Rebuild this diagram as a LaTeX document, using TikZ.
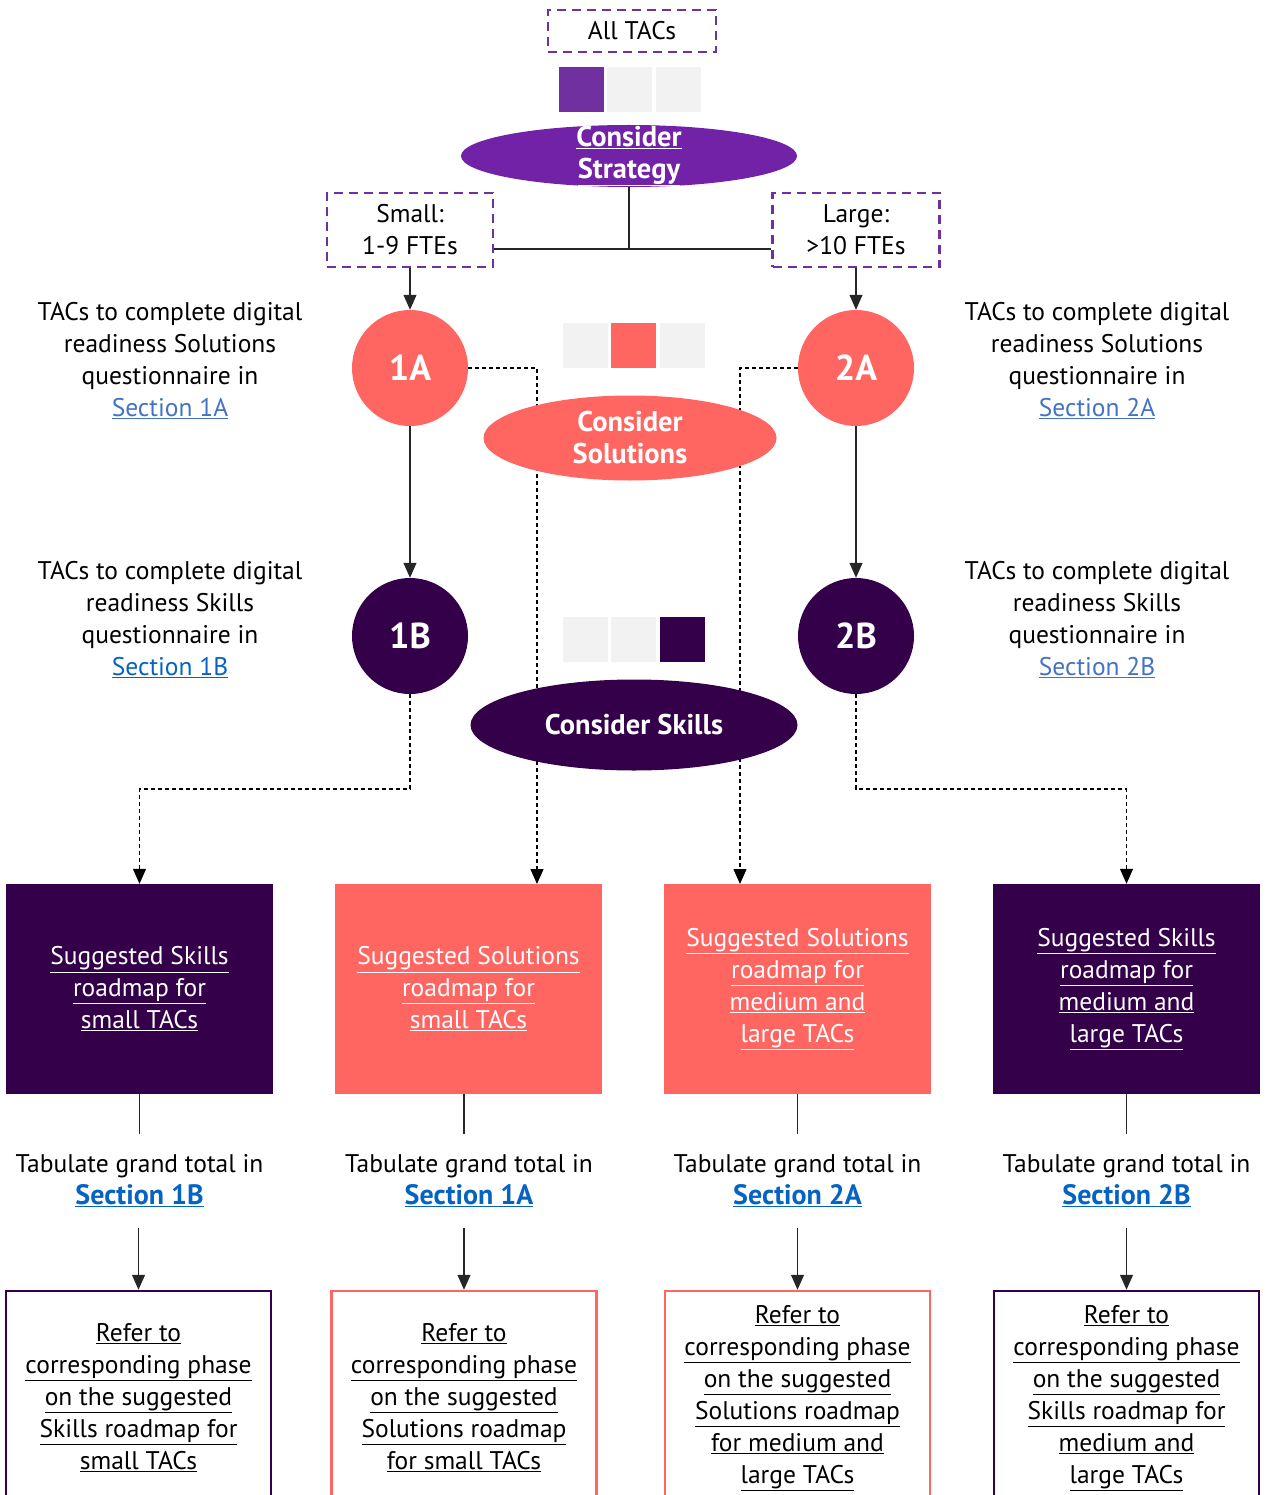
\documentclass[tikz,border=0pt]{standalone}
\usepackage{fontspec}
\setmainfont{PT Sans}
\usetikzlibrary{shapes.geometric,arrows.meta}
\definecolor{vio}{HTML}{7030A0}
\definecolor{strat}{HTML}{7122A6}
\definecolor{coral}{HTML}{FF6661}
\definecolor{dpurp}{HTML}{35004A}
\definecolor{lgray}{HTML}{F2F2F2}
\definecolor{lnk}{HTML}{4472C4}
\definecolor{lnkb}{HTML}{0563C1}
\begin{document}
\begin{tikzpicture}[x=1pt,y=-1pt,
  font=\fontsize{25.5}{32}\selectfont,
  dbox/.style={draw=vio, dash pattern=on 9pt off 6pt, line width=2.5pt, align=center, inner sep=0pt},
  circ/.style={circle, minimum size=116pt, inner sep=0pt, text=white, font=\fontsize{36}{40}\selectfont\bfseries},
  sq/.style={minimum width=45pt, minimum height=45pt, inner sep=0pt},
  ellshape/.style={ellipse, inner sep=0pt},
  elltext/.style={text=white, align=center, font=\fontsize{28.5}{32}\selectfont\bfseries},
  txt/.style={align=center, inner sep=0pt},
  fbox/.style={minimum width=267pt, minimum height=210pt, inner sep=0pt, align=center, text=white},
  obox/.style={line width=2.5pt, minimum width=265pt, minimum height=214pt, inner sep=0pt, align=center},
  tab/.style={align=center, inner xsep=0pt, inner ysep=21pt},
  sect/.style={},
  arr/.style={-{Triangle[length=15pt,width=13pt]}, line width=1.2pt, draw=black!85},
  sline/.style={line width=1.2pt, draw=black!85},
  dline/.style={line width=1.1pt, dash pattern=on 4pt off 3pt},
  darr/.style={dline, -{Triangle[length=15pt,width=13pt]}}
]
\useasboundingbox (0,0) rectangle (1267,1495);
\newcommand{\bsec}[1]{\textcolor{lnkb}{\fontsize{28}{32}\selectfont\bfseries\underline{#1}}}

% top
\node[dbox, minimum width=168pt, minimum height=42pt] (all) at (632,31) {All TACs};
\node[sq, fill=vio] (s1) at (581.5,90) {};
\node[sq, fill=lgray] (s2) at (629.5,90) {};
\node[sq, fill=lgray] (s3) at (678.5,90) {};
\node[ellshape, fill=strat, minimum width=336pt, minimum height=62pt] (strat) at (629,156) {};
\node[elltext] (stratT) at (629,156) {\underline{Consider}\\\underline{Strategy}};

\node[dbox, minimum width=166pt, minimum height=74pt] (small) at (410,230) {Small:\\1-9 FTEs};
\node[dbox, minimum width=167pt, minimum height=74pt] (large) at (856,230) {Large:\\>10 FTEs};
\coordinate (j) at (629,249);
\draw[sline] (strat.south) -- (j);
\draw[sline] (small.east |- j) -- (large.west |- j);

% circles
\node[circ, fill=coral] (n1A) at (410,368) {1A};
\node[circ, fill=coral] (n2A) at (856,368) {2A};
\node[circ, fill=dpurp] (n1B) at (410,636) {1B};
\node[circ, fill=dpurp] (n2B) at (856,636) {2B};
\draw[arr] (small.south) -- (n1A.north);
\draw[arr] (large.south) -- (n2A.north);
\draw[arr] (n1A.south) -- (n1B.north);
\draw[arr] (n2A.south) -- (n2B.north);

% side texts
\node[txt] (t1a) at (170,361) {TACs to complete digital\\readiness Solutions\\questionnaire in\\\textcolor{lnk}{\underline{Section 1A}}};
\node[txt] (t2a) at (1097,361) {TACs to complete digital\\readiness Solutions\\questionnaire in\\\textcolor{lnk}{\underline{Section 2A}}};
\node[txt] (t1b) at (170,620) {TACs to complete digital\\readiness Skills\\questionnaire in\\\textcolor{lnkb}{\underline{Section 1B}}};
\node[txt] (t2b) at (1097,620) {TACs to complete digital\\readiness Skills\\questionnaire in\\\textcolor{lnk}{\underline{Section 2B}}};

% middle squares
\node[sq, fill=lgray] (m1) at (585.5,345.5) {};
\node[sq, fill=coral] (m2) at (633.5,345.5) {};
\node[sq, fill=lgray] (m3) at (682.5,345.5) {};
\node[sq, fill=lgray] (k1) at (585.5,639) {};
\node[sq, fill=lgray] (k2) at (633.5,639) {};
\node[sq, fill=dpurp] (k3) at (682.5,639) {};

% roadmap boxes
\node[fbox, fill=dpurp] (r1) at (139.5,989) {\underline{Suggested Skills}\\\underline{roadmap for}\\\underline{small TACs}};
\node[fbox, fill=coral] (r2) at (468.5,989) {\underline{Suggested Solutions}\\\underline{roadmap for}\\\underline{small TACs}};
\node[fbox, fill=coral] (r3) at (797.5,989) {\underline{Suggested Solutions}\\\underline{roadmap for}\\\underline{medium and}\\\underline{large TACs}};
\node[fbox, fill=dpurp] (r4) at (1126.5,989) {\underline{Suggested Skills}\\\underline{roadmap for}\\\underline{medium and}\\\underline{large TACs}};

% dashed connectors
\coordinate (d2) at (537,884);
\coordinate (d3) at (740,884);
\draw[darr] (n1A.east) -| (d2);
\draw[darr] (n2A.west) -| (d3);
\coordinate (e1) at (410,789);
\coordinate (e4) at (856,789);
\draw[darr] (n1B.south) -- (e1) -| (r1.north);
\draw[darr] (n2B.south) -- (e4) -| (r4.north);

% ellipses over dashed lines
\node[ellshape, fill=coral, minimum width=293pt, minimum height=85pt] (sol) at (630,438) {};
\node[elltext] (solT) at (630,438) {Consider\\Solutions};
\node[ellshape, fill=dpurp, minimum width=327pt, minimum height=91pt] (skl) at (634,725) {};
\node[elltext] (sklT) at (634,725) {Consider Skills};

% tabulate
\node[tab] (g1) at (139.5,1181) {Tabulate grand total in\\\bsec{Section 1B}};
\node[tab] (g2) at (469,1181) {Tabulate grand total in\\\bsec{Section 1A}};
\node[tab] (g3) at (797.5,1181) {Tabulate grand total in\\\bsec{Section 2A}};
\node[tab] (g4) at (1126.5,1181) {Tabulate grand total in\\\bsec{Section 2B}};

% bottom boxes
\node[obox, draw=dpurp] (b1) at (138.5,1398) {\underline{Refer to}\\\underline{corresponding phase}\\\underline{on the suggested}\\\underline{Skills roadmap for}\\\underline{small TACs}};
\node[obox, draw=coral] (b2) at (464,1398) {\underline{Refer to}\\\underline{corresponding phase}\\\underline{on the suggested}\\\underline{Solutions roadmap}\\\underline{for small TACs}};
\node[obox, draw=coral] (b3) at (797.5,1398) {\underline{Refer to}\\\underline{corresponding phase}\\\underline{on the suggested}\\\underline{Solutions roadmap}\\\underline{for medium and}\\\underline{large TACs}};
\node[obox, draw=dpurp] (b4) at (1126.5,1398) {\underline{Refer to}\\\underline{corresponding phase}\\\underline{on the suggested}\\\underline{Skills roadmap for}\\\underline{medium and}\\\underline{large TACs}};

\draw[sline] (r1.south) -- (g1.north -| r1.south);
\draw[sline] (r2.south -| b2.north) -- (g2.north -| b2.north);
\draw[sline] (r3.south) -- (g3.north -| r3.south);
\draw[sline] (r4.south) -- (g4.north -| r4.south);
\draw[arr] (g1.south -| b1.north) -- (b1.north);
\draw[arr] (g2.south -| b2.north) -- (b2.north);
\draw[arr] (g3.south -| b3.north) -- (b3.north);
\draw[arr] (g4.south -| b4.north) -- (b4.north);
\end{tikzpicture}
\end{document}
